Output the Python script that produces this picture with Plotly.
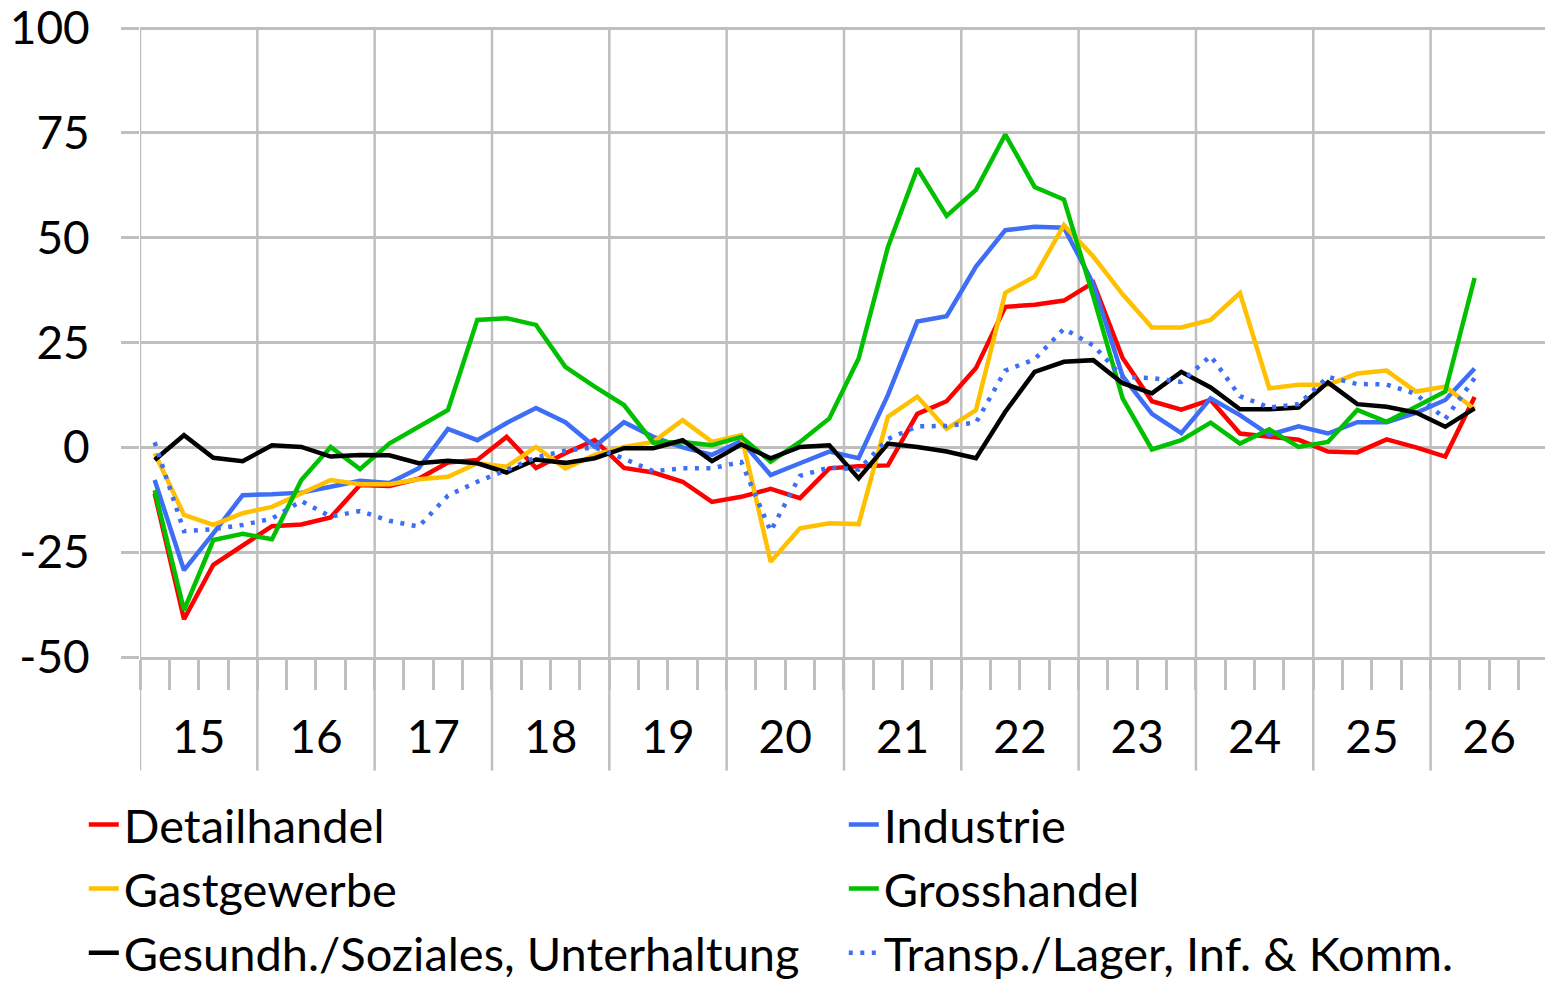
import plotly.graph_objects as go

years = ["15", "16", "17", "18", "19", "20", "21", "22", "23", "24", "25", "26"]
quarters = [f"20{y}Q{q}" for y in years for q in range(1, 5)]

detailhandel = [-11, -41, -28, -23.5, -18.8, -18.4, -16.7, -9, -9.2, -7.5, -3.6, -3, 2.5, -4.9, -1.4, 1.7,
                -4.9, -6, -8.2, -13, -11.8, -9.9, -12.1, -5, -4.5, -4.3, 8, 11, 18.9, 33.5, 34, 35,
                39.3, 21.3, 11, 9, 11.3, 3.3, 2.5, 1.8, -1, -1.2, 1.9, 0, -2.2, 12]
industrie = [-7.8, -29.3, -20.5, -11.4, -11.2, -10.8, -9.4, -8, -8.5, -5, 4.4, 1.7, 5.8, 9.4, 6, 0.2,
             6, 2.5, 0, -1.8, 1.5, -6.6, -3.8, -1, -2.6, 12.5, 30, 31.3, 43.1, 51.8, 52.6, 52.4,
             39, 17, 8, 3.4, 11.7, 7.7, 3, 5, 3.3, 6, 6, 8.2, 11.3, 18.8]
gastgewerbe = [-1.4, -16.1, -18.5, -15.7, -14.2, -11, -7.8, -8.8, -8.8, -7.6, -7, -3.8, -4.6, 0.1, -5, -1.8,
               0.1, 1.3, 6.5, 1.3, 2.9, -27.3, -19.3, -18.1, -18.3, 7.3, 12.1, 4.4, 8.9, 36.9, 40.7, 53,
               45.5, 36.5, 28.6, 28.6, 30.4, 36.8, 14.1, 14.9, 14.9, 17.6, 18.3, 13.3, 14.5, 9.1]
grosshandel = [-10.2, -38.8, -22.1, -20.6, -21.9, -7.8, 0.1, -5.2, 0.9, 4.9, 8.9, 30.4, 30.8, 29.2, 19.2, 14.5,
               10.1, 1.1, 1.3, 0.5, 2.5, -3.4, 1.3, 6.9, 21.2, 47.8, 66.5, 55.2, 61.4, 74.6, 62.1, 59.1,
               36, 11.7, -0.5, 1.7, 5.9, 0.9, 4.3, 0.1, 1.3, 8.9, 6.1, 9.7, 13.3, 40.4]
gesundheit = [-3, 2.9, -2.5, -3.3, 0.5, 0.1, -2.2, -1.8, -1.9, -3.8, -3.2, -3.8, -6, -2.9, -3.7, -2.6,
              -0.2, -0.2, 1.7, -3.3, 0.7, -2.6, 0.1, 0.5, -7.4, 0.9, 0.1, -1, -2.6, 8.5, 18, 20.4,
              20.8, 15.3, 12.9, 18, 14.3, 9.1, 9.1, 9.5, 15.5, 10.3, 9.7, 8.3, 4.9, 9.3]
transport = [1.2, -20, -19.5, -18.5, -17, -12.8, -16.5, -15.2, -17.5, -18.9, -11.5, -8.2, -5.4, -2.4, -0.8, 0,
             -2.7, -5.7, -5, -5, -3.5, -20, -6.8, -4.8, -5.3, 2, 5, 5.1, 5.9, 18.3, 21, 28.3,
             24.3, 16.8, 16.5, 15.6, 21.8, 12.2, 9.5, 10.3, 16.8, 15.1, 15, 12.7, 6.8, 16.5]

y_ticks = [-50, -25, 0, 25, 50, 75, 100]
y_ticktext = ["-50", "-25", "0", "25", "50", "75", "100"]

series = [
    ("Detailhandel", detailhandel, "#FF0000", "solid"),
    ("Industrie", industrie, "#3D6EF5", "solid"),
    ("Gastgewerbe", gastgewerbe, "#FFC000", "solid"),
    ("Grosshandel", grosshandel, "#00C000", "solid"),
    ("Gesundh./Soziales, Unterhaltung", gesundheit, "#000000", "solid"),
    ("Transp./Lager, Inf. & Komm.", transport, "#3D6EF5", "4px,7.5px"),
]

GRID = "#BFBFBF"
fig = go.Figure()
for name, vals, color, dash in series:
    fig.add_trace(go.Scatter(
        x=list(range(len(vals))), y=vals, name=name, mode="lines",
        customdata=quarters[:len(vals)],
        hovertemplate="%{customdata}: %{y}<extra>" + name + "</extra>",
        line=dict(color=color, width=4.5, dash=dash),
    ))

# year boundary lines (grid + long ticks below the axis)
shapes = []
for k in range(len(years)):
    xb = 4 * k - 0.5
    shapes.append(dict(type="line", xref="x", yref="paper", x0=xb, x1=xb, y0=-0.18, y1=1,
                       line=dict(color=GRID, width=2.5), layer="below"))

fig.update_layout(
    width=1545, height=985,
    margin=dict(l=140, r=0, t=27, b=328, autoexpand=False),
    plot_bgcolor="white", paper_bgcolor="white",
    font=dict(family="Lato", color="black"),
    shapes=shapes,
    showlegend=True,
    legend=dict(orientation="h", x=-0.04, xanchor="left", y=-0.207, yanchor="top",
                entrywidth=715, entrywidthmode="pixels", font=dict(size=47, color="black"),
                bgcolor="rgba(0,0,0,0)", traceorder="normal"),
    xaxis=dict(range=[-0.5, 47.4], tickmode="array",
               tickvals=[4 * k + 1.5 for k in range(len(years))], ticktext=years,
               ticks="", showgrid=False, zeroline=False, showline=True,
               linecolor=GRID, linewidth=2.5, tickfont=dict(size=46),
               ticklabelstandoff=38,
               minor=dict(ticks="outside", ticklen=30, tickwidth=2.5, tickcolor=GRID,
                          tickmode="linear", tick0=-0.5, dtick=1, showgrid=False)),
    yaxis=dict(range=[-50, 100.25], tickmode="array", tickvals=y_ticks, ticktext=y_ticktext,
               ticks="outside", ticklen=18, tickwidth=2.5, tickcolor=GRID,
               showgrid=True, gridcolor=GRID, gridwidth=2.5, zeroline=False,
               showline=False, tickfont=dict(size=46), ticklabelstandoff=22,
               ticklabeloverflow="allow"),
)

fig.write_html("out.html", config={"displayModeBar": False},
               post_script="document.body.style.margin='0';")
